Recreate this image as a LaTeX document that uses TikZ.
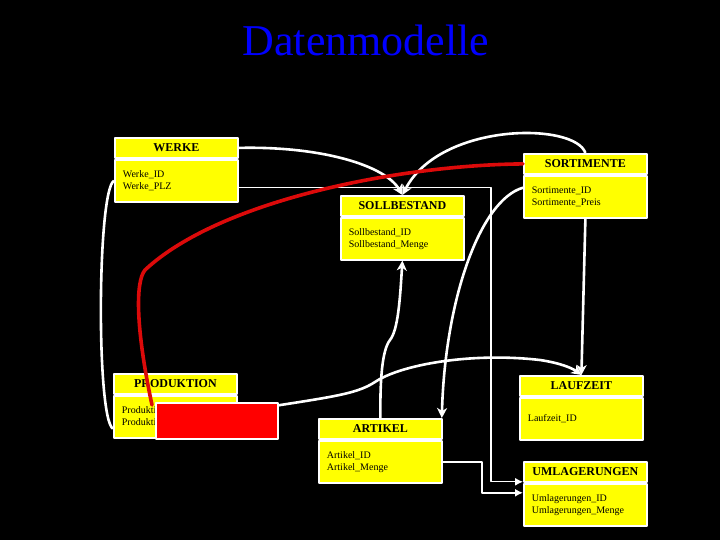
\documentclass[tikz,border=0pt]{standalone}
\usepackage{fontspec}
\setmainfont{Liberation Serif}
\usetikzlibrary{arrows.meta,positioning}

\definecolor{tabyellow}{RGB}{255,255,0}
\definecolor{titleblue}{RGB}{0,0,255}
\definecolor{linkred}{RGB}{220,10,10}

\tikzset{
  tabhead/.style={draw=white, line width=1.8pt, fill=tabyellow, minimum width=123pt,
    minimum height=20pt, inner sep=0pt, anchor=north west,
    font=\bfseries\fontsize{12}{14}\selectfont},
  tabbody/.style={draw=white, line width=1.8pt, fill=tabyellow, text width=107pt,
    inner xsep=8pt, inner ysep=0pt, minimum height=42pt, align=left, anchor=north west,
    font=\fontsize{10}{12}\selectfont},
  wire/.style={draw=white, line width=2.6pt, -{Stealth[length=10pt,width=10pt,inset=3pt]}},
  thinwire/.style={draw=white, line width=1.2pt, -{Latex[length=8pt,width=8pt]}},
  redwire/.style={draw=linkred, line width=3.6pt, line cap=round},
}

% one table: name, top left corner, title, attribute lines
\newcommand{\dbtable}[4]{%
  \node[tabhead] (#1-h) at (#2) {#3};
  \node[tabbody] (#1-b) at (#1-h.south west) {#4};}

\begin{document}
\begin{tikzpicture}[x=1pt,y=-1pt,line join=round]
  % Frame of the slide, black background.
  \useasboundingbox (0,0) rectangle (720,540);
  \fill[black] (0,0) rectangle (720,540);

  \node[anchor=base, text=titleblue, font=\fontsize{44}{44}\selectfont] (title) at (366,56) {Datenmodelle};

  % Tables of the data model.
  \dbtable{werke}{114,137}{WERKE}{Werke\_ID\\Werke\_PLZ}
  \dbtable{sortim}{523,153}{SORTIMENTE}{Sortimente\_ID\\Sortimente\_Preis}
  \dbtable{sollb}{340,195}{SOLLBESTAND}{Sollbestand\_ID\\Sollbestand\_Menge}
  \dbtable{prod}{113,373}{PRODUKTION}{Produktion\_ID\\Produktion\_Menge}
  \dbtable{artikel}{318,418}{ARTIKEL}{Artikel\_ID\\Artikel\_Menge}
  \dbtable{laufz}{519,375}{LAUFZEIT}{Laufzeit\_ID}
  \dbtable{umlag}{523,461}{UMLAGERUNGEN}{Umlagerungen\_ID\\Umlagerungen\_Menge}

  % Relations between the tables.
  \draw[wire] (werke-h.east) .. controls (320,146) and (385,165) .. (sollb-h.north);
  \draw[wire] (sortim-h.north) .. controls (575,122) and (440,122) .. (sollb-h.north);
  \draw[wire,-] (werke-b.west) to[out=210,in=150,looseness=0.2] ([yshift=-12pt]prod-b.west);
  \draw[wire] ([yshift=9pt]sortim-b.west) .. controls (480,200) and (445,300) .. ([xshift=-1pt]artikel-h.north east);
  \draw[wire] (artikel-h.north) .. controls (380,380) and (382,350) .. (390,340)
    .. controls (398,330) and (400,300) .. (sollb-b.south);
  \draw[wire] (sortim-b.south) -- (laufz-h.north);
  \draw[wire] ([yshift=5pt]prod-b.east) .. controls (330,397) and (355,395) .. (375,382)
    .. controls (400,365) and (470,352) .. (540,360)
    .. controls (560,363) and (572,368) .. (laufz-h.north);
  \draw[thinwire] ([yshift=-7pt]werke-b.east) -| ([xshift=-32pt,yshift=1pt]umlag-h.south west)
    -- ([yshift=1pt]umlag-h.south west);
  \draw[thinwire,line width=2pt] (artikel-b.east) -| ([xshift=-41pt,yshift=-10pt]umlag-b.north west)
    -- ([yshift=-10pt]umlag-b.north west);

  % Red link drawn over the tables.
  \draw[redwire] (sortim-h.west) .. controls (400,165) and (220,200) .. (145,270)
    .. controls (135,282) and (136,330) .. (152,405);

  % Red box hiding part of PRODUKTION.
  \node[draw=white, line width=1.8pt, fill=red, minimum width=122pt, minimum height=36pt,
    inner sep=0pt, anchor=north west] (cover) at (155,402) {};
\end{tikzpicture}
\end{document}
